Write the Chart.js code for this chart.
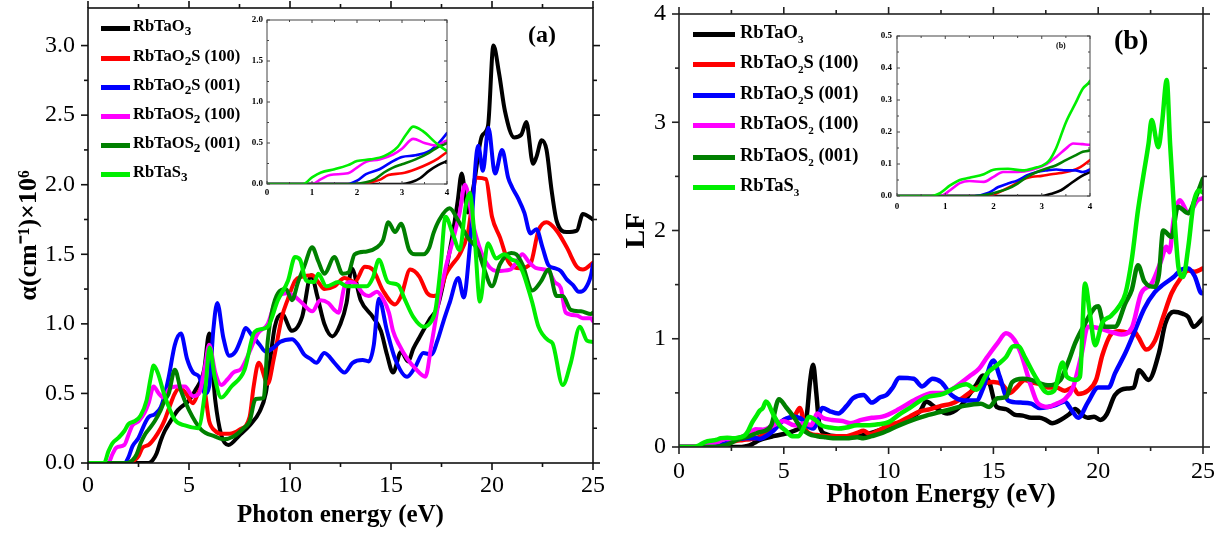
<!DOCTYPE html>
<html><head><meta charset="utf-8">
<script src="https://cdn.jsdelivr.net/npm/chart.js@4.4.1/dist/chart.umd.min.js"></script>
<style>
body{margin:0;background:#fff;}
#wrap{position:relative;width:1220px;height:533px;overflow:hidden;background:#fff;font-family:"Liberation Serif","Times New Roman",serif;}
canvas{position:absolute;}
.leg{position:absolute;left:0;top:0;font-weight:bold;color:#000;white-space:nowrap;}
.leg .sw{position:absolute;}
.leg .tx{position:absolute;line-height:1;transform:translateY(-58%);}
.leg sub{vertical-align:baseline;position:relative;}
.lbl{position:absolute;font-weight:bold;line-height:1;color:#000;}
</style></head><body>
<div id="wrap">
<canvas id="cA" width="610" height="533" style="left:0;top:0"></canvas>
<canvas id="cB" width="610" height="533" style="left:610px;top:0"></canvas>
<canvas id="cAi" width="230" height="195" style="left:230px;top:10px"></canvas>
<canvas id="cBi" width="245" height="190" style="left:860px;top:26px"></canvas>
<div id="legA" class="leg"></div>
<div id="legB" class="leg"></div>
<div class="lbl" style="left:528px;top:22px;font-size:24px">(a)</div>
<div class="lbl" style="left:1114px;top:26px;font-size:28px">(b)</div>
<div class="lbl" style="left:1056px;top:42px;font-size:8px">(b)</div>
</div>
<script>
// ---------- series names / colours ----------
const seriesNames = ['RbTaO<sub>3</sub>','RbTaO<sub>2</sub>S (100)','RbTaO<sub>2</sub>S (001)','RbTaOS<sub>2</sub> (100)','RbTaOS<sub>2</sub> (001)','RbTaS<sub>3</sub>'];
const seriesColors = ['#000000','#ff0000','#0000ff','#ff00ff','#008000','#00ee00'];

// ---------- tick values ----------
const aXTicks = [0,5,10,15,20,25];
const aYTicks = [0,0.5,1,1.5,2,2.5,3];
const bXTicks = [0,5,10,15,20,25];
const bYTicks = [0,1,2,3,4];
const insetXTicks = [0,1,2,3,4];
const aiYTicks = [0,0.5,1,1.5,2];
const biYTicks = [0,0.1,0.2,0.3,0.4,0.5];

// ---------- panel (a): absorption alpha (x10^6 cm^-1) vs photon energy (eV) ----------
const aRbTaO3 = [[0,0],[1,0],[2,0],[3.0,0],[3.2,0.02],[3.4,0.07],[3.6,0.16],[3.8,0.23],[4.0,0.28],[4.45,0.38],[5.0,0.45],[5.3,0.52],[5.75,0.67],[6.0,0.93],[6.3,0.45],[6.6,0.2],[6.95,0.13],[7.5,0.2],[8.0,0.27],[8.5,0.37],[8.8,0.5],[9.25,0.98],[9.6,1.07],[10.1,0.95],[10.6,1.05],[11.05,1.35],[11.35,1.2],[11.7,1.0],[12.1,0.91],[12.5,1.0],[12.8,1.15],[13.05,1.4],[13.5,1.17],[14.1,1.05],[14.5,0.95],[14.8,0.78],[15.1,0.65],[15.5,0.8],[15.85,0.73],[16.1,0.82],[16.4,0.9],[16.9,1.03],[17.3,1.12],[17.6,1.3],[18.0,1.6],[18.3,1.88],[18.5,2.08],[18.8,1.8],[19.1,2.0],[19.5,2.35],[19.8,2.42],[20.07,3.0],[20.35,2.8],[20.64,2.53],[21.1,2.34],[21.45,2.36],[21.7,2.45],[22.03,2.15],[22.2,2.2],[22.46,2.32],[22.7,2.25],[22.95,1.96],[23.2,1.74],[23.7,1.66],[24.2,1.67],[24.5,1.79],[24.9,1.76],[25,1.75]];
const aRbTaO2S_100 = [[0,0],[1,0],[2.0,0],[2.3,0.02],[2.5,0.05],[2.7,0.11],[3.0,0.13],[3.3,0.18],[3.6,0.25],[3.8,0.31],[4.0,0.39],[4.3,0.5],[4.55,0.54],[4.85,0.5],[5.2,0.43],[5.45,0.5],[5.7,0.56],[6.0,0.3],[6.3,0.23],[6.6,0.21],[7.0,0.21],[7.5,0.24],[8.0,0.33],[8.2,0.55],[8.45,0.72],[8.9,0.57],[9.2,0.75],[9.6,1.05],[9.9,1.18],[10.25,1.31],[10.6,1.34],[11.1,1.35],[11.4,1.3],[11.7,1.25],[12.2,1.27],[12.7,1.33],[13.2,1.3],[13.7,1.41],[14.1,1.39],[14.6,1.24],[15.2,1.14],[15.5,1.2],[15.95,1.39],[16.4,1.34],[16.8,1.22],[17.1,1.2],[17.4,1.22],[17.7,1.35],[18.0,1.42],[18.4,1.5],[18.8,1.65],[19.25,2.05],[19.7,2.04],[20.0,1.77],[20.4,1.62],[20.8,1.45],[21.4,1.4],[21.9,1.43],[22.3,1.67],[22.7,1.73],[23.2,1.67],[23.7,1.55],[24.2,1.41],[24.5,1.39],[25,1.44]];
const aRbTaO2S_001 = [[0,0],[1,0],[1.8,0],[2.0,0.04],[2.2,0.12],[2.5,0.18],[2.8,0.28],[3.0,0.33],[3.3,0.35],[3.6,0.4],[3.8,0.49],[4.0,0.62],[4.3,0.85],[4.6,0.93],[4.9,0.75],[5.2,0.65],[5.5,0.62],[5.8,0.5],[6.0,0.55],[6.2,0.95],[6.4,1.15],[6.7,0.9],[7.0,0.77],[7.3,0.8],[7.6,0.9],[7.8,0.97],[8.1,0.92],[8.5,0.85],[8.8,0.8],[9.2,0.83],[9.5,0.87],[10.1,0.89],[10.4,0.85],[10.7,0.78],[11.0,0.75],[11.3,0.72],[11.7,0.79],[12.2,0.72],[12.7,0.65],[13.1,0.72],[13.6,0.74],[13.9,0.73],[14.15,0.85],[14.4,1.18],[14.8,0.95],[15.2,0.75],[15.8,0.62],[16.2,0.69],[16.6,0.79],[17.0,0.78],[17.3,0.88],[17.6,1.02],[17.9,1.15],[18.33,1.33],[18.6,1.19],[18.9,1.55],[19.32,2.28],[19.55,2.1],[19.82,2.41],[20.15,2.08],[20.5,2.25],[20.8,2.05],[21.0,1.98],[21.3,1.9],[21.6,1.8],[21.9,1.65],[22.2,1.68],[22.5,1.55],[22.8,1.42],[23.1,1.4],[23.4,1.38],[23.7,1.32],[24.0,1.28],[24.3,1.23],[24.6,1.25],[24.9,1.35],[25,1.43]];
const aRbTaOS2_100 = [[0,0],[0.5,0],[1.0,0],[1.2,0.06],[1.4,0.11],[1.8,0.13],[2.0,0.2],[2.2,0.27],[2.5,0.3],[2.8,0.36],[3.0,0.43],[3.25,0.55],[3.5,0.5],[3.75,0.47],[4.0,0.53],[4.4,0.55],[4.8,0.55],[5.2,0.48],[5.5,0.5],[5.8,0.7],[6.0,0.85],[6.3,0.65],[6.6,0.56],[6.9,0.6],[7.2,0.65],[7.6,0.68],[8.0,0.8],[8.4,0.93],[8.9,1.0],[9.3,1.17],[9.9,1.22],[10.2,1.2],[10.6,1.15],[11.1,1.09],[11.5,1.17],[11.9,1.15],[12.2,1.1],[12.4,1.08],[12.7,1.27],[13.0,1.3],[13.3,1.28],[13.6,1.22],[13.9,1.2],[14.3,1.23],[14.6,1.18],[14.9,1.08],[15.1,0.95],[15.4,0.85],[15.8,0.75],[16.2,0.68],[16.7,0.62],[17.0,0.85],[17.4,1.19],[17.7,1.4],[18.1,1.62],[18.4,1.8],[18.66,2.0],[19.1,1.69],[19.6,1.47],[20.2,1.38],[20.9,1.39],[21.2,1.44],[21.5,1.5],[21.8,1.45],[22.2,1.4],[22.8,1.38],[23.1,1.3],[23.4,1.26],[23.65,1.08],[24.2,1.06],[24.5,1.04],[24.9,1.04],[25,1.02]];
const aRbTaOS2_001 = [[0,0],[1,0],[1.9,0],[2.2,0.02],[2.4,0.06],[2.6,0.14],[2.8,0.2],[3.0,0.24],[3.3,0.3],[3.6,0.38],[3.8,0.45],[4.0,0.5],[4.3,0.67],[4.6,0.52],[5.0,0.38],[5.6,0.24],[6.3,0.19],[6.7,0.17],[7.2,0.19],[7.7,0.25],[8.0,0.3],[8.3,0.46],[8.7,0.47],[8.9,0.88],[9.4,1.22],[9.8,1.25],[10.1,1.17],[10.4,1.3],[10.7,1.41],[11.1,1.55],[11.4,1.45],[11.7,1.36],[12.2,1.48],[12.6,1.36],[12.9,1.37],[13.2,1.5],[13.8,1.52],[14.3,1.55],[14.6,1.6],[14.87,1.73],[15.2,1.66],[15.5,1.72],[15.9,1.53],[16.2,1.5],[16.6,1.5],[16.9,1.55],[17.1,1.65],[17.4,1.75],[17.9,1.83],[18.3,1.75],[18.8,1.62],[19.3,1.53],[19.6,1.4],[20.0,1.27],[20.4,1.43],[20.95,1.51],[21.2,1.5],[21.5,1.43],[22.0,1.24],[22.4,1.3],[22.8,1.39],[23.2,1.2],[23.5,1.2],[23.9,1.1],[24.4,1.09],[24.9,1.07],[25,1.08]];
const aRbTaS3 = [[0,0],[0.5,0],[0.8,0],[1.0,0.08],[1.2,0.14],[1.5,0.18],[1.8,0.23],[2.0,0.28],[2.3,0.3],[2.6,0.34],[2.9,0.45],[3.1,0.61],[3.25,0.7],[3.45,0.65],[3.8,0.48],[4.3,0.31],[4.8,0.27],[5.45,0.25],[5.8,0.52],[6.02,0.83],[6.27,0.62],[6.6,0.47],[7.1,0.55],[7.75,0.67],[8.2,0.93],[8.5,0.96],[8.9,0.98],[9.4,1.17],[9.9,1.31],[10.25,1.48],[10.5,1.46],[10.8,1.31],[11.2,1.3],[11.4,1.36],[11.8,1.27],[12.4,1.3],[12.8,1.27],[13.2,1.27],[13.8,1.27],[14.1,1.33],[14.4,1.46],[14.85,1.3],[15.35,1.28],[15.7,1.17],[16.1,1.05],[16.6,0.98],[16.9,1.0],[17.2,1.1],[17.45,1.4],[17.7,1.77],[18.05,1.65],[18.4,1.53],[18.7,1.85],[18.9,1.94],[19.15,1.6],[19.4,1.16],[19.8,1.58],[20.2,1.47],[20.6,1.5],[21.0,1.46],[21.2,1.45],[21.5,1.38],[21.8,1.25],[22.0,1.15],[22.3,0.98],[22.8,0.88],[23.0,0.86],[23.5,0.56],[23.9,0.72],[24.35,0.98],[24.7,0.88],[25,0.87]];

// ---------- panel (b): loss function LF vs photon energy (eV) ----------
const bRbTaO3 = [[0,0],[1,0],[2,0],[3.0,0],[3.2,0.007],[3.4,0.018],[3.6,0.039],[3.8,0.06],[4.0,0.075],[4.5,0.1],[5.0,0.12],[5.5,0.15],[5.9,0.2],[6.1,0.3],[6.25,0.6],[6.4,0.76],[6.55,0.5],[6.7,0.2],[7.0,0.12],[7.5,0.1],[8.0,0.1],[8.5,0.1],[9.0,0.12],[9.5,0.15],[10.0,0.18],[10.5,0.22],[11.0,0.27],[11.5,0.33],[11.8,0.42],[12.2,0.37],[12.8,0.31],[13.4,0.37],[13.9,0.5],[14.2,0.58],[14.5,0.66],[14.8,0.6],[15.15,0.37],[15.6,0.35],[16.0,0.3],[16.4,0.29],[16.8,0.27],[17.2,0.27],[17.5,0.25],[17.8,0.22],[18.2,0.25],[18.6,0.3],[18.9,0.35],[19.2,0.3],[19.5,0.27],[19.8,0.28],[20.1,0.25],[20.4,0.3],[20.8,0.48],[21.4,0.54],[21.7,0.55],[21.95,0.71],[22.4,0.62],[22.9,0.87],[23.2,1.14],[23.6,1.25],[24.05,1.23],[24.3,1.2],[24.55,1.11],[24.95,1.18],[25,1.19]];
const bRbTaO2S_100 = [[0,0],[1,0],[1.8,0],[2.0,0.005],[2.2,0.018],[2.4,0.033],[2.6,0.051],[2.8,0.06],[3.0,0.063],[3.2,0.068],[3.4,0.072],[3.6,0.078],[3.8,0.09],[4.0,0.112],[4.5,0.17],[5.0,0.25],[5.3,0.27],[5.55,0.3],[5.76,0.36],[6.05,0.16],[6.3,0.12],[6.6,0.11],[7.0,0.1],[7.5,0.1],[8.0,0.1],[8.5,0.13],[8.8,0.15],[9.1,0.12],[9.5,0.15],[10.0,0.2],[10.5,0.23],[11.0,0.28],[11.5,0.33],[12.0,0.35],[12.5,0.38],[13.0,0.4],[13.5,0.45],[14.0,0.52],[14.5,0.58],[15.0,0.6],[15.4,0.58],[15.8,0.5],[16.1,0.55],[16.5,0.62],[16.8,0.6],[17.2,0.58],[17.6,0.55],[18.0,0.55],[18.4,0.52],[18.8,0.55],[19.05,0.49],[19.5,0.52],[19.9,0.62],[20.2,0.85],[20.65,1.05],[21.0,1.07],[21.4,1.06],[21.7,1.07],[21.9,1.02],[22.3,0.9],[22.7,0.98],[23.1,1.2],[23.5,1.42],[23.9,1.55],[24.3,1.63],[24.6,1.62],[25,1.65]];
const bRbTaO2S_001 = [[0,0],[1,0],[1.6,0],[1.9,0.01],[2.1,0.028],[2.3,0.039],[2.5,0.049],[2.7,0.065],[2.9,0.075],[3.1,0.08],[3.3,0.083],[3.5,0.08],[3.7,0.08],[3.85,0.075],[4.0,0.083],[4.5,0.15],[5.0,0.25],[5.5,0.28],[5.9,0.25],[6.1,0.2],[6.4,0.17],[6.85,0.36],[7.2,0.33],[7.6,0.31],[8.0,0.38],[8.3,0.45],[8.8,0.48],[9.2,0.41],[9.6,0.46],[9.9,0.48],[10.2,0.55],[10.5,0.64],[11.2,0.63],[11.6,0.56],[12.1,0.63],[12.5,0.6],[13.0,0.48],[13.6,0.43],[14.2,0.43],[14.5,0.54],[15.0,0.8],[15.3,0.65],[15.7,0.43],[16.3,0.41],[16.8,0.4],[17.2,0.36],[17.6,0.37],[18.0,0.39],[18.4,0.42],[18.7,0.35],[19.05,0.27],[19.5,0.41],[20.0,0.55],[20.5,0.55],[20.8,0.68],[21.3,0.87],[21.7,1.05],[22.2,1.28],[22.7,1.43],[23.1,1.5],[23.6,1.57],[23.98,1.64],[24.3,1.65],[24.6,1.58],[24.94,1.42],[25,1.42]];
const bRbTaOS2_100 = [[0,0],[0.5,0],[0.9,0],[1.1,0.018],[1.3,0.04],[1.5,0.047],[1.8,0.044],[2.0,0.06],[2.2,0.075],[2.5,0.075],[2.8,0.082],[3.1,0.1],[3.3,0.122],[3.5,0.148],[3.65,0.164],[3.85,0.162],[4.0,0.16],[4.5,0.2],[5.0,0.24],[5.5,0.2],[6.0,0.22],[6.3,0.2],[6.6,0.31],[6.85,0.27],[7.3,0.25],[7.8,0.24],[8.2,0.22],[8.7,0.25],[9.2,0.27],[9.7,0.28],[10.5,0.35],[11.3,0.44],[12.1,0.5],[12.6,0.5],[13.0,0.53],[13.5,0.6],[13.9,0.66],[14.3,0.72],[14.7,0.83],[15.2,0.96],[15.6,1.05],[16.0,0.99],[16.3,0.87],[16.8,0.56],[17.1,0.41],[17.6,0.37],[18.0,0.4],[18.4,0.44],[18.8,0.55],[19.2,0.85],[19.5,1.11],[20.0,1.1],[20.65,1.06],[21.1,1.04],[21.6,1.1],[22.05,1.42],[22.55,1.51],[23.0,1.72],[23.25,1.85],[23.4,1.8],[23.6,2.1],[23.9,2.28],[24.3,2.16],[24.75,2.28],[25,2.3]];
const bRbTaOS2_001 = [[0,0],[1,0],[1.6,0],[1.9,0.005],[2.1,0.013],[2.3,0.023],[2.5,0.039],[2.7,0.06],[2.9,0.075],[3.1,0.086],[3.3,0.096],[3.5,0.112],[3.7,0.127],[3.85,0.138],[4.0,0.143],[4.4,0.2],[4.77,0.44],[5.1,0.37],[5.5,0.27],[5.8,0.18],[6.2,0.12],[6.6,0.1],[7.0,0.09],[7.5,0.08],[8.0,0.08],[8.5,0.09],[8.8,0.08],[9.2,0.1],[9.7,0.13],[10.5,0.2],[11.3,0.26],[11.8,0.29],[12.6,0.33],[13.6,0.38],[14.4,0.4],[14.8,0.37],[15.2,0.45],[15.6,0.46],[15.9,0.6],[16.4,0.63],[16.8,0.62],[17.2,0.59],[17.6,0.57],[18.2,0.62],[18.6,0.8],[18.9,0.96],[19.37,1.14],[19.85,1.29],[20.0,1.3],[20.3,1.11],[20.8,1.11],[21.3,1.33],[21.6,1.45],[21.9,1.68],[22.2,1.53],[22.7,1.48],[22.9,1.6],[23.1,2.0],[23.5,1.94],[23.8,2.22],[24.3,2.16],[24.6,2.28],[25,2.48]];
const bRbTaS3 = [[0,0],[0.5,0],[0.7,0],[0.9,0.01],[1.1,0.033],[1.3,0.05],[1.5,0.057],[1.8,0.068],[2.0,0.082],[2.3,0.085],[2.6,0.08],[2.9,0.09],[3.0,0.094],[3.15,0.11],[3.3,0.15],[3.5,0.23],[3.7,0.29],[3.85,0.335],[4.0,0.36],[4.15,0.42],[4.5,0.3],[4.8,0.2],[5.1,0.15],[5.4,0.1],[5.7,0.1],[6.0,0.2],[6.2,0.28],[6.5,0.25],[6.8,0.2],[7.2,0.18],[7.6,0.17],[8.0,0.18],[8.5,0.2],[9.0,0.2],[9.5,0.21],[10.0,0.23],[10.5,0.3],[11.0,0.36],[11.8,0.46],[12.6,0.49],[13.2,0.55],[13.7,0.58],[14.2,0.53],[14.7,0.68],[15.2,0.76],[15.6,0.83],[15.95,0.93],[16.2,0.93],[16.5,0.83],[17.0,0.65],[17.6,0.5],[17.9,0.52],[18.3,0.78],[18.5,0.65],[18.9,0.62],[19.13,0.65],[19.37,1.51],[19.6,1.24],[19.85,0.94],[20.2,1.15],[20.6,1.21],[21.0,1.3],[21.3,1.42],[21.6,1.73],[21.9,2.19],[22.15,2.5],[22.4,2.8],[22.55,3.02],[22.87,2.77],[23.05,3.0],[23.27,3.39],[23.43,2.8],[23.67,2.03],[23.83,1.66],[24.05,1.57],[24.3,1.85],[24.55,2.25],[24.8,2.37],[25,2.35]];

const panelA = [aRbTaO3,aRbTaO2S_100,aRbTaO2S_001,aRbTaOS2_100,aRbTaOS2_001,aRbTaS3];
const panelB = [bRbTaO3,bRbTaO2S_100,bRbTaO2S_001,bRbTaOS2_100,bRbTaOS2_001,bRbTaS3];

// ---------- frame + minor ticks plugin ----------
const framePlugin = {
  id:'frame',
  afterDraw(chart, args, o){
    const {ctx, chartArea:{left,right,top,bottom}, scales:{x,y}} = chart;
    ctx.save();
    ctx.strokeStyle = o.color; ctx.lineWidth = o.width;
    ctx.strokeRect(left, top, right-left, bottom-top);
    const seg=(x1,y1,x2,y2)=>{ctx.beginPath();ctx.moveTo(x1,y1);ctx.lineTo(x2,y2);ctx.stroke();};
    const maj = s => s.ticks.map(t=>t.value);
    const mins = a => a.slice(1).map((v,i)=>(v+a[i])/2);
    const d = o.dir; // +1 outward, -1 inward
    const doX=(vals,len)=>vals.forEach(v=>{const p=x.getPixelForValue(v); seg(p,bottom,p,bottom+d*len); seg(p,top,p,top-d*len);});
    const doY=(vals,len)=>vals.forEach(v=>{const p=y.getPixelForValue(v); seg(left,p,left-d*len,p); seg(right,p,right+d*len,p);});
    const mx = maj(x), my = maj(y);
    doX(mx,o.major); doX(mins(mx),o.minor);
    doY(my,o.major); doY(mins(my),o.minor);
    ctx.restore();
  }
};

const plain = s => s.replace(/<sub>(\d)<\/sub>/g,(m,d)=>String.fromCharCode(0x2080+Number(d)));
const FONT = '"Liberation Serif","Times New Roman",serif';

function makeChart(id, series, c){
  return new Chart(document.getElementById(id), {
    type:'line',
    data:{datasets: series.map((s,i)=>({
      label: plain(seriesNames[i]),
      data: s.map(p=>({x:p[0], y:p[1]})),
      borderColor: seriesColors[i], backgroundColor: seriesColors[i],
      borderWidth: c.lw, pointRadius:0, fill:false,
      cubicInterpolationMode:'monotone', order: series.length-1-i,
      borderJoinStyle:'round', borderCapStyle:'round'
    }))},
    options:{
      responsive:false, animation:false, devicePixelRatio:1,
      layout:{autoPadding:false, padding:c.pad},
      plugins:{legend:{display:false}, tooltip:{enabled:false}, title:{display:false},
        frame:{color:c.frameColor, width:c.frameW, major:c.tMaj, minor:c.tMin, dir:c.dir}},
      scales:{
        x:{type:'linear', min:c.xmin, max:c.xmax,
          grid:{display:false, drawTicks:false}, border:{display:false},
          afterBuildTicks: s=>{ s.ticks = c.xTicks.map(v=>({value:v})); },
          afterFit: s=>{ s.height = c.xH; s.paddingLeft=0; s.paddingRight=0; },
          ticks:{color:'#000', font:{family:FONT, size:c.tickSize, weight:c.tickWeight}, padding:c.xPad, maxRotation:0, autoSkip:false,
            callback: v=>c.xFmt(v)},
          title:{display:!!c.xTitle, text:c.xTitle||'', color:'#000', font:{family:FONT, size:c.xTitleSize, weight:'bold'}, padding:{top:0,bottom:c.xTitlePad}}
        },
        y:{type:'linear', min:c.ymin, max:c.ymax,
          grid:{display:false, drawTicks:false}, border:{display:false},
          afterBuildTicks: s=>{ s.ticks = c.yTicks.map(v=>({value:v})); },
          afterFit: s=>{ s.width = c.yW; s.paddingTop=0; s.paddingBottom=0; },
          ticks:{color:'#000', font:{family:FONT, size:c.tickSize, weight:c.tickWeight}, padding:c.yPad, autoSkip:false,
            callback: v=>c.yFmt(v)},
          title:{display:!!c.yTitle, text:c.yTitle||'', color:'#000', font:{family:FONT, size:c.yTitleSize, weight:'bold'}, padding:{top:c.yTitlePad,bottom:0}}
        }
      }
    },
    plugins:[framePlugin]
  });
}

makeChart('cA', panelA, {lw:4, pad:{left:0,right:17,top:8,bottom:0}, xmin:0,xmax:25,ymin:0,ymax:3.27,
  xTicks:aXTicks, yTicks:aYTicks, xH:70, yW:88, tickSize:24, tickWeight:'normal', xPad:8, yPad:13,
  xFmt:v=>String(v), yFmt:v=>v.toFixed(1),
  xTitle:'Photon energy (eV)', xTitleSize:25, xTitlePad:2,
  yTitle:'α(cm⁻¹)×10⁶', yTitleSize:26, yTitlePad:14,
  frameColor:'#111', frameW:1.6, tMaj:7, tMin:4, dir:1});

makeChart('cB', panelB, {lw:4.5, pad:{left:0,right:17,top:14,bottom:0}, xmin:0,xmax:25,ymin:0,ymax:4,
  xTicks:bXTicks, yTicks:bYTicks, xH:86, yW:69, tickSize:24, tickWeight:'normal', xPad:10, yPad:13,
  xFmt:v=>String(v), yFmt:v=>String(v),
  xTitle:'Photon Energy (eV)', xTitleSize:27, xTitlePad:22,
  yTitle:'LF', yTitleSize:28, yTitlePad:10,
  frameColor:'#222', frameW:1.6, tMaj:7, tMin:4, dir:1});

makeChart('cAi', panelA, {lw:2.6, pad:{left:0,right:13,top:10,bottom:0}, xmin:0,xmax:4,ymin:0,ymax:2,
  xTicks:insetXTicks, yTicks:aiYTicks, xH:21, yW:37, tickSize:9, tickWeight:'bold', xPad:3, yPad:4,
  xFmt:v=>String(v), yFmt:v=>v.toFixed(1),
  frameColor:'#444', frameW:1, tMaj:3, tMin:2, dir:-1});

makeChart('cBi', panelB, {lw:2.6, pad:{left:0,right:15,top:10,bottom:0}, xmin:0,xmax:4,ymin:0,ymax:0.5,
  xTicks:insetXTicks, yTicks:biYTicks, xH:20, yW:37, tickSize:9, tickWeight:'bold', xPad:5, yPad:5,
  xFmt:v=>String(v), yFmt:v=>v.toFixed(1),
  frameColor:'#444', frameW:1, tMaj:3, tMin:2, dir:-1});

// ---------- HTML legends (with real subscripts) ----------
function buildLegend(id, o){
  const el = document.getElementById(id);
  seriesNames.forEach((n,i)=>{
    const y = o.rows[i];
    const sw = document.createElement('div');
    sw.className='sw';
    sw.style.cssText = `left:${o.lx}px;top:${y-o.lw/2}px;width:${o.ll}px;height:${o.lw}px;background:${seriesColors[i]}`;
    el.appendChild(sw);
    const tx = document.createElement('div');
    tx.className='tx';
    tx.style.cssText = `left:${o.tx}px;top:${y}px;font-size:${o.fs}px`;
    tx.innerHTML = n.replace(/<sub>/g,`<sub style="font-size:${o.subScale}em;top:${o.subDrop}em">`);
    el.appendChild(tx);
  });
}
buildLegend('legA',{lx:101, ll:29, lw:5, tx:133, fs:16.5, rows:[28,58,87,116,145,174], subScale:0.8, subDrop:0.3});
buildLegend('legB',{lx:693, ll:42, lw:5, tx:740, fs:18.5, rows:[34,64,95,125,157,187], subScale:0.6, subDrop:0.45});
</script>
</body></html>
